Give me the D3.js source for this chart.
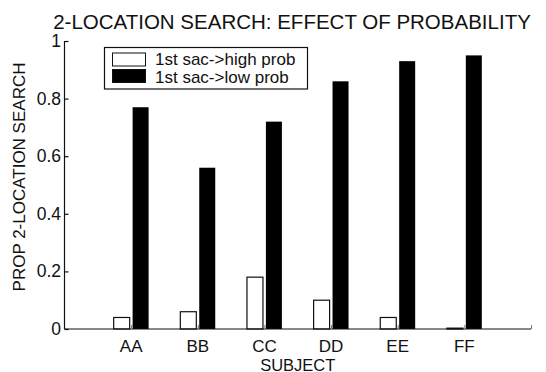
<!DOCTYPE html>
<html>
<head>
<meta charset="utf-8">
<script src="https://cdn.jsdelivr.net/npm/d3@7"></script>
<style>
  html, body { margin: 0; padding: 0; background: #fff; }
  svg { display: block; font-family: "Liberation Sans", Arial, sans-serif; }
</style>
</head>
<body>
<svg id="chart" width="546" height="372"></svg>
<script>
// Subjects and the proportion of 2-location searches for each first-saccade type
const subjects = ["AA", "BB", "CC", "DD", "EE", "FF"];
const highProb = [0.04, 0.06, 0.18, 0.10, 0.04, 0.003];
const lowProb  = [0.77, 0.56, 0.72, 0.86, 0.93, 0.95];
const seriesNames = ["1st sac->high prob", "1st sac->low prob"];
const yTicks = [0, 0.2, 0.4, 0.6, 0.8, 1];

const svg = d3.select("#chart");
const margin = { left: 64.5, right: 15, top: 41, bottom: 43 };
const W = 546, H = 372;

// Subjects sit at positions 1..6 on a 0..7 axis
const x = d3.scaleLinear().domain([0, subjects.length + 1]).range([margin.left, W - margin.right]);
const y = d3.scaleLinear().domain([0, 1]).range([H - margin.bottom, margin.top]);

const barW = 0.24;   // bar width in axis units
const offset = 0.142; // shift of each bar from the subject position
const ink = "#111";
const fontSize = 17.5;

const g = svg.append("g");

// White bars: first saccade to the high-probability location
g.selectAll("rect.high").data(highProb).join("rect")
  .attr("class", "high")
  .attr("x", (d, i) => x(i + 1 - offset - barW / 2))
  .attr("width", x(barW) - x(0))
  .attr("y", d => y(d))
  .attr("height", d => y(0) - y(d))
  .attr("fill", "#fff")
  .attr("stroke", ink)
  .attr("stroke-width", 1.2);

// Black bars: first saccade to the low-probability location
g.selectAll("rect.low").data(lowProb).join("rect")
  .attr("class", "low")
  .attr("x", (d, i) => x(i + 1 + offset - barW / 2))
  .attr("width", x(barW) - x(0))
  .attr("y", d => y(d))
  .attr("height", d => y(0) - y(d))
  .attr("fill", "#000");

// Y axis with inward ticks
const yAxis = d3.axisRight(y).tickValues(yTicks).tickSize(4).tickFormat("");
const ya = svg.append("g").attr("transform", `translate(${x(0)},0)`).call(yAxis);
ya.select(".domain").attr("d", `M0,${y(1)}V${y(0)}`);
ya.selectAll("line, path").attr("stroke", ink).attr("stroke-width", 1.2);

svg.append("g").selectAll("text").data(yTicks).join("text")
  .attr("x", x(0) - 3.5)
  .attr("y", d => y(d) + 6)
  .attr("text-anchor", "end")
  .attr("font-size", fontSize)
  .attr("fill", ink)
  .text(d => d3.format("~g")(d));

// X axis with inward ticks at each subject and at the axis end
const xAxis = d3.axisTop(x).tickValues(d3.range(1, subjects.length + 2)).tickSize(4)
  .tickFormat("");
const xa = svg.append("g").attr("transform", `translate(0,${y(0)})`).call(xAxis);
xa.select(".domain").attr("d", `M${x(0)},0H${x(subjects.length + 1)}`);
xa.selectAll("line, path").attr("stroke", ink).attr("stroke-width", 1.2);
xa.selectAll(".tick line").attr("stroke", "#777").attr("stroke-width", 1);

svg.append("g").selectAll("text").data(subjects).join("text")
  .attr("x", (d, i) => x(i + 1))
  .attr("y", y(0) + 22.5)
  .attr("text-anchor", "middle")
  .attr("font-size", 17)
  .attr("fill", ink)
  .text(d => d);

// Axis titles and chart title
svg.append("text")
  .attr("x", (x(0) + x(subjects.length + 1)) / 2)
  .attr("y", 370.5)
  .attr("text-anchor", "middle")
  .attr("font-size", 16.5)
  .attr("fill", ink)
  .text("SUBJECT");

svg.append("text")
  .attr("transform", `translate(25,177) rotate(-90)`)
  .attr("text-anchor", "middle")
  .attr("font-size", 17)
  .attr("fill", ink)
  .text("PROP 2-LOCATION SEARCH");

svg.append("text")
  .attr("x", 292)
  .attr("y", 28.5)
  .attr("text-anchor", "middle")
  .attr("font-size", 20.5)
  .attr("fill", ink)
  .text("2-LOCATION SEARCH: EFFECT OF PROBABILITY");

// Legend
const legend = svg.append("g");
legend.append("rect")
  .attr("x", 104.5).attr("y", 47.5).attr("width", 203).attr("height", 41.5)
  .attr("fill", "#fff").attr("stroke", ink).attr("stroke-width", 1.2);
const fills = ["#fff", "#000"];
seriesNames.forEach((name, i) => {
  legend.append("rect")
    .attr("x", 112.5).attr("y", 53 + i * 16.5)
    .attr("width", 33).attr("height", 13)
    .attr("fill", fills[i]).attr("stroke", ink).attr("stroke-width", 1);
  legend.append("text")
    .attr("x", 155).attr("y", 65 + i * 18)
    .attr("font-size", 17)
    .attr("fill", ink)
    .text(name);
});
</script>
</body>
</html>
